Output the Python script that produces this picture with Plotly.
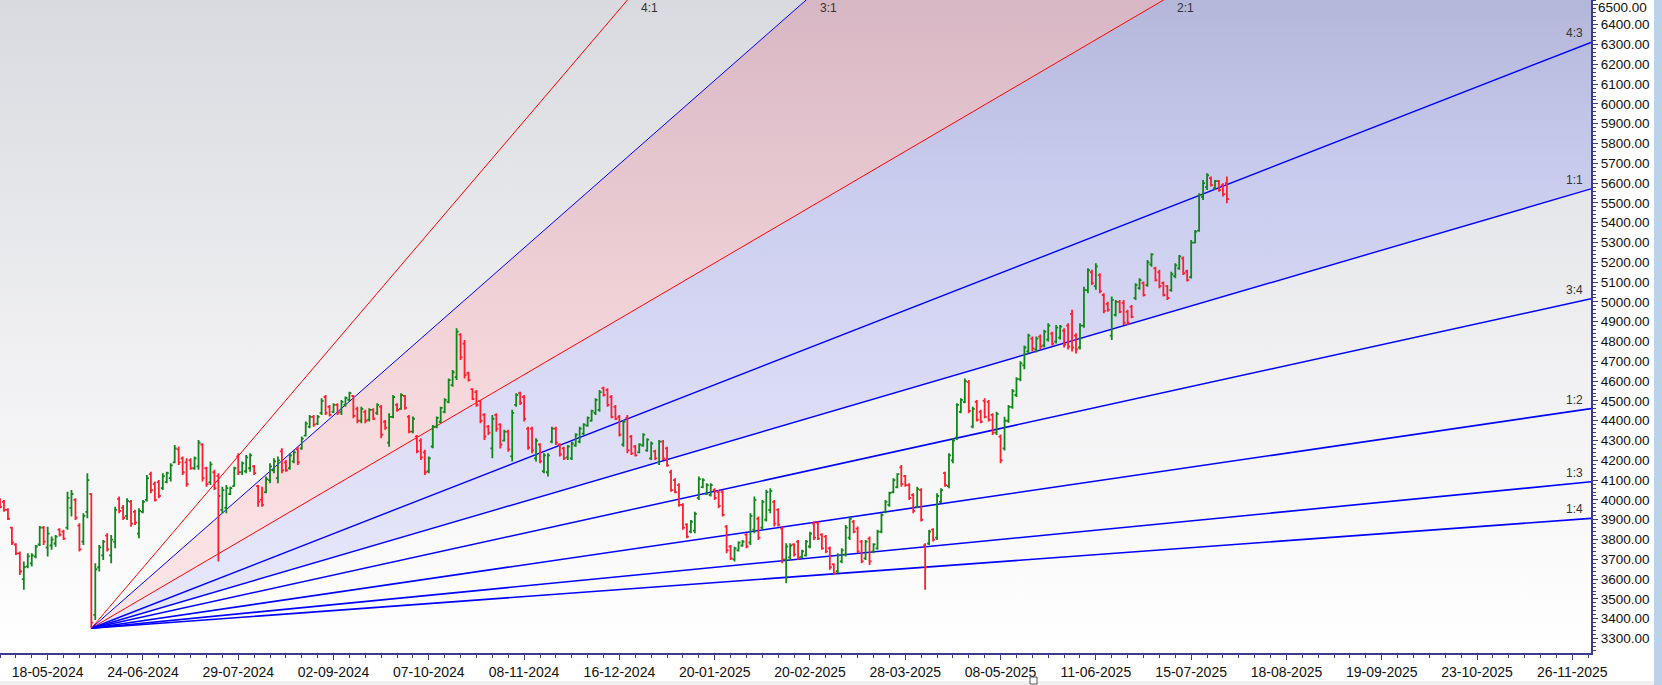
import plotly.graph_objects as go

# ---------------- data ----------------
# x axis = trading-bar index (0 = 18-05-2024), one tick label every 24 bars
tick_index = [0, 24, 48, 72, 96, 120, 144, 168, 192, 216, 240, 264, 288, 312, 336, 360, 384]
tick_labels = ["18-05-2024", "24-06-2024", "29-07-2024", "02-09-2024", "07-10-2024",
               "08-11-2024", "16-12-2024", "20-01-2025", "20-02-2025", "28-03-2025",
               "08-05-2025", "11-06-2025", "15-07-2025", "18-08-2025", "19-09-2025",
               "23-10-2025", "26-11-2025"]
price_ticks = list(range(3300, 6501, 100))

first_bar = -12
opens = [
    4000, 3990, 3950, 3860, 3775, 3730, 3600, 3665, 3680, 3715,
    3775, 3860, 3760, 3770, 3780, 3850, 3840, 3860, 3960, 4000,
    3870, 3790, 3940, 4030, 3420, 3660, 3720, 3820, 3720, 3790,
    4005, 3960, 3920, 3990, 3940, 3830, 3940, 4000, 4130, 4080,
    4090, 4060, 4090, 4110, 4190, 4255, 4210, 4190, 4200, 4160,
    4170, 4280, 4160, 4090, 4140, 4120, 3950, 3960, 4030, 4070,
    4220, 4140, 4145, 4160,
    # 52..114
    4170, 4070, 4000, 4040, 4100, 4150, 4110, 4245, 4190, 4160,
    4195, 4255, 4260, 4325, 4370, 4420, 4385, 4440, 4520, 4470,
    4445, 4480, 4445, 4480, 4505, 4525, 4460, 4400, 4445, 4405,
    4455, 4440, 4470, 4395, 4290, 4420, 4480, 4460, 4525, 4420,
    4345, 4320, 4300, 4240, 4145, 4270, 4370, 4395, 4445, 4495,
    4580, 4620, 4835, 4790, 4640, 4560, 4545, 4500, 4430, 4370,
    4260, 4430, 4380,
    # 115..175
    4300, 4345, 4220, 4480, 4540, 4520, 4360, 4360, 4210, 4280,
    4145, 4140, 4295, 4360, 4280, 4260, 4215, 4210, 4275, 4295,
    4335, 4375, 4400, 4440, 4455, 4565, 4555, 4520, 4470, 4420,
    4280, 4415, 4320, 4270, 4240, 4275, 4250, 4210, 4245, 4190,
    4295, 4260, 4140, 4100, 4075, 3975, 3875, 3840, 3845, 4010,
    4065, 4030, 4025, 4050, 4040, 4040, 3865, 3765, 3700, 3745,
    3770,
    # 176..239
    3825, 3785, 3850, 3905, 3860, 3900, 3950, 3990, 3950, 3855,
    3700, 3710, 3775, 3790, 3712, 3720, 3765, 3880, 3885, 3825,
    3815, 3755, 3675, 3640, 3690, 3725, 3810, 3890, 3855, 3790,
    3705, 3805, 3740, 3755, 3840, 3940, 3975, 4040, 4065, 4165,
    4120, 4075, 4025, 3965, 4050, 3770, 3780, 3850, 3810, 3990,
    4135, 4070, 4200, 4315, 4445, 4495, 4595, 4370, 4495, 4445,
    4500, 4495, 4430, 4340,
    # 240..297
    4320, 4260, 4400, 4470, 4530, 4610, 4680, 4750, 4815, 4760,
    4825, 4780, 4810, 4840, 4800, 4820, 4855, 4880, 4940, 4830,
    4770, 4880, 5060, 5150, 5080, 5135, 5035, 4990, 4830, 4935,
    5000, 4995, 4950, 4975, 5020, 5070, 5095, 5085, 5190, 5170,
    5150, 5095, 5080, 5060, 5130, 5170, 5220, 5155, 5125, 5300,
    5360, 5530, 5580, 5625, 5575, 5610, 5590, 5600,
]
highs = [
    4008, 4000, 3958, 3865, 3781, 3739, 3689, 3731, 3731, 3773,
    3869, 3869, 3865, 3815, 3823, 3857, 3849, 4042, 4050, 4008,
    3882, 3933, 4135, 4034, 3680, 3773, 3798, 3832, 3823, 3966,
    4017, 3975, 4008, 4000, 3950, 3958, 4000, 4126, 4143, 4093,
    4101, 4135, 4143, 4185, 4278, 4270, 4219, 4210, 4210, 4219,
    4303, 4286, 4168, 4194, 4152, 4135, 4067, 4076, 4067, 4168,
    4236, 4194, 4227, 4236,
    # 52..114
    4177, 4076, 4067, 4118, 4185, 4210, 4219, 4261, 4202, 4236,
    4253, 4269, 4320, 4396, 4429, 4429, 4429, 4513, 4530, 4480,
    4488, 4488, 4505, 4522, 4547, 4530, 4471, 4471, 4455, 4463,
    4463, 4488, 4480, 4404, 4438, 4530, 4488, 4539, 4530, 4429,
    4421, 4328, 4312, 4253, 4219, 4379, 4421, 4471, 4513, 4614,
    4656, 4867, 4842, 4808, 4648, 4564, 4555, 4505, 4438, 4379,
    4429, 4438, 4387,
    # 115..175
    4354, 4354, 4455, 4539, 4547, 4530, 4370, 4370, 4312, 4286,
    4236, 4236, 4370, 4370, 4286, 4269, 4278, 4295, 4337, 4370,
    4387, 4421, 4455, 4513, 4555, 4572, 4564, 4530, 4480, 4429,
    4404, 4429, 4328, 4278, 4286, 4337, 4312, 4295, 4253, 4303,
    4303, 4269, 4152, 4110, 4084, 3983, 3882, 3899, 3941, 4118,
    4110, 4084, 4084, 4059, 4050, 4050, 3874, 3773, 3764, 3790,
    3798,
    # 176..239
    3832, 3933, 4017, 3916, 4000, 4051, 4059, 4000, 3958, 3866,
    3781, 3781, 3781, 3798, 3748, 3798, 3840, 3891, 3891, 3832,
    3823, 3765, 3680, 3731, 3756, 3874, 3916, 3899, 3866, 3798,
    3798, 3815, 3781, 3849, 3933, 4000, 4042, 4110, 4135, 4177,
    4126, 4084, 4034, 4067, 4059, 3781, 3849, 3857, 4034, 4059,
    4143, 4236, 4312, 4488, 4513, 4614, 4606, 4471, 4505, 4455,
    4513, 4505, 4438, 4446,
    # 240..297
    4330, 4420, 4480, 4560, 4620, 4700, 4780, 4840, 4825, 4825,
    4835, 4860, 4893, 4850, 4884, 4884, 4867, 4893, 4960, 4842,
    4893, 5077, 5170, 5162, 5195, 5145, 5044, 5001, 5027, 5010,
    5010, 5010, 4960, 4985, 5094, 5120, 5103, 5212, 5246, 5178,
    5162, 5103, 5086, 5153, 5195, 5237, 5229, 5162, 5313, 5363,
    5549, 5616, 5650, 5633, 5616, 5616, 5600, 5633,
]
lows = [
    3958, 3941, 3899, 3773, 3722, 3621, 3546, 3655, 3664, 3706,
    3768, 3773, 3714, 3748, 3764, 3815, 3798, 3849, 3916, 3899,
    3739, 3773, 3907, 3352, 3394, 3638, 3697, 3739, 3680, 3756,
    3933, 3899, 3899, 3865, 3874, 3807, 3933, 3992, 4034, 3992,
    4008, 4050, 4084, 4093, 4185, 4177, 4126, 4067, 4152, 4152,
    4152, 4093, 4067, 4076, 4050, 3689, 3933, 3933, 4025, 4067,
    4126, 4126, 4135, 4143,
    # 52..114
    4126, 3966, 3966, 4034, 4084, 4135, 4084, 4135, 4143, 4152,
    4185, 4177, 4253, 4320, 4362, 4370, 4379, 4429, 4429, 4421,
    4438, 4429, 4429, 4471, 4497, 4412, 4387, 4387, 4387, 4396,
    4404, 4429, 4312, 4354, 4269, 4412, 4446, 4455, 4455, 4337,
    4337, 4236, 4202, 4126, 4135, 4261, 4362, 4387, 4438, 4488,
    4572, 4606, 4707, 4614, 4598, 4505, 4471, 4387, 4303, 4328,
    4211, 4345, 4260,
    # 115..175
    4295, 4244, 4194, 4471, 4480, 4396, 4253, 4236, 4194, 4185,
    4135, 4118, 4286, 4278, 4219, 4202, 4202, 4202, 4269, 4286,
    4328, 4370, 4396, 4429, 4446, 4522, 4471, 4412, 4404, 4320,
    4269, 4236, 4227, 4219, 4236, 4269, 4244, 4202, 4202, 4177,
    4202, 4168, 4042, 4034, 3966, 3849, 3807, 3832, 3832, 4000,
    4059, 4025, 4017, 4000, 3958, 3916, 3731, 3697, 3689, 3739,
    3764,
    # 176..239
    3756, 3773, 3832, 3798, 3849, 3891, 3933, 3866, 3866, 3680,
    3579, 3697, 3714, 3697, 3706, 3714, 3756, 3798, 3798, 3748,
    3731, 3647, 3621, 3630, 3680, 3714, 3798, 3832, 3731, 3680,
    3697, 3672, 3731, 3748, 3832, 3933, 3966, 4034, 4059, 4067,
    4067, 4000, 3933, 3958, 3891, 3546, 3773, 3790, 3798, 3983,
    4067, 4059, 4185, 4303, 4438, 4488, 4438, 4362, 4396, 4387,
    4412, 4396, 4328, 4328,
    # 240..297
    4185, 4250, 4390, 4460, 4520, 4600, 4660, 4740, 4750, 4745,
    4760, 4770, 4800, 4780, 4790, 4810, 4770, 4760, 4750, 4740,
    4760, 4870, 5044, 5086, 5061, 5044, 4943, 4951, 4808, 4926,
    4943, 4884, 4884, 4918, 5010, 5061, 5027, 5077, 5178, 5103,
    5069, 5027, 5010, 5052, 5120, 5162, 5136, 5103, 5119, 5296,
    5355, 5515, 5566, 5583, 5566, 5557, 5532, 5498,
]
closes = [
    3965, 3950, 3905, 3785, 3730, 3640, 3660, 3715, 3720, 3765,
    3860, 3790, 3830, 3800, 3815, 3825, 3805, 4010, 4030, 3910,
    3750, 3920, 4100, 3380, 3650, 3760, 3790, 3750, 3800, 3950,
    3945, 3910, 3995, 3880, 3885, 3945, 3990, 4110, 4050, 4000,
    4020, 4120, 4135, 4175, 4260, 4190, 4140, 4080, 4160, 4210,
    4290, 4110, 4080, 4180, 4060, 4020, 4050, 4060, 4060, 4160,
    4140, 4185, 4215, 4225,
    # 52..114
    4135, 3990, 3975, 4105, 4170, 4195, 4200, 4150, 4150, 4225,
    4240, 4190, 4310, 4385, 4420, 4380, 4420, 4500, 4440, 4430,
    4480, 4440, 4495, 4515, 4540, 4425, 4400, 4460, 4400, 4455,
    4410, 4480, 4330, 4365, 4420, 4520, 4455, 4530, 4465, 4345,
    4410, 4245, 4215, 4140, 4210, 4370, 4415, 4465, 4505, 4605,
    4645, 4850, 4720, 4630, 4605, 4510, 4480, 4400, 4320, 4340,
    4410, 4360, 4280,
    # 115..175
    4345, 4255, 4440, 4530, 4490, 4410, 4265, 4250, 4300, 4195,
    4225, 4225, 4360, 4290, 4230, 4210, 4270, 4285, 4330, 4360,
    4380, 4415, 4450, 4505, 4545, 4530, 4480, 4420, 4410, 4330,
    4395, 4250, 4235, 4225, 4280, 4330, 4305, 4285, 4210, 4295,
    4210, 4175, 4050, 4040, 3975, 3860, 3815, 3890, 3930, 4105,
    4100, 4075, 4075, 4010, 3970, 3925, 3745, 3705, 3755, 3785,
    3790,
    # 176..239
    3765, 3920, 4000, 3810, 3990, 4040, 4045, 3880, 3875, 3700,
    3765, 3770, 3725, 3710, 3740, 3790, 3830, 3810, 3805, 3755,
    3740, 3660, 3630, 3720, 3745, 3860, 3905, 3840, 3740, 3690,
    3790, 3690, 3775, 3840, 3925, 3990, 4035, 4100, 4130, 4080,
    4075, 4010, 3945, 4055, 3900, 3660, 3840, 3800, 4020, 4050,
    4075, 4225, 4300, 4480, 4505, 4600, 4450, 4460, 4405, 4395,
    4420, 4405, 4340, 4435,
    # 240..297
    4200, 4400, 4470, 4550, 4610, 4690, 4770, 4830, 4765, 4815,
    4775, 4850, 4880, 4790, 4870, 4875, 4785, 4775, 4770, 4760,
    4880, 5060, 5160, 5095, 5180, 5055, 4955, 4960, 5010, 5000,
    4950, 4895, 4895, 4925, 5085, 5110, 5035, 5200, 5240, 5110,
    5080, 5035, 5020, 5140, 5185, 5230, 5145, 5110, 5300, 5355,
    5540, 5600, 5640, 5590, 5610, 5565, 5545, 5520,
]
bar_index = list(range(first_bar, first_bar + len(closes)))

# Gann fan anchored at the June-2024 low
gann_origin_index = 11
gann_origin_price = 3352
gann_unit = 5.875          # price per bar for the 1x1 angle
gann_names = ["4:1", "3:1", "2:1", "4:3", "1:1", "3:4", "1:2", "1:3", "1:4"]
gann_ratios = [4, 3, 2, 4 / 3, 1, 3 / 4, 1 / 2, 1 / 3, 1 / 4]
gann_colors = ["#ff0000", "#0000ff", "#ff0000", "#0000ff", "#0000ff",
               "#0000ff", "#0000ff", "#0000ff", "#0000ff"]
gann_widths = [1, 1, 1, 1.4, 1.4, 1.5, 1.6, 1.6, 1.6]

# ---------------- layout constants ----------------
X_MIN, X_MAX = -12.0, 388.7
Y_MIN, Y_MAX = 3227, 6525
W, H = 1662, 685
M_L, M_R, M_T, M_B = 0, 71, 0, 32
PLOT_W, PLOT_H = W - M_L - M_R, H - M_T - M_B


def gann_price(ratio, x):
    return gann_origin_price + ratio * gann_unit * (x - gann_origin_index)


fig = go.Figure()

# background gradient of the plotting area
fig.add_trace(go.Scatter(
    x=[X_MIN, X_MAX, X_MAX, X_MIN], y=[Y_MIN, Y_MIN, Y_MAX, Y_MAX],
    mode="lines", line=dict(width=0), fill="toself",
    fillgradient=dict(type="vertical", start=Y_MIN, stop=Y_MAX,
                      colorscale=[[0, "#ffffff"], [0.45, "#f0f0f2"], [1, "#d8dadf"]]),
    hoverinfo="skip", showlegend=False))

# pink band between 3:1 and 2:1
r31, r21, r11 = gann_ratios[1], gann_ratios[2], gann_ratios[4]
fig.add_trace(go.Scatter(
    x=[gann_origin_index, X_MAX, X_MAX, gann_origin_index],
    y=[gann_origin_price, gann_price(r31, X_MAX), gann_price(r21, X_MAX), gann_origin_price],
    mode="lines", line=dict(width=0), fill="toself",
    fillgradient=dict(type="vertical", start=gann_origin_price, stop=Y_MAX,
                      colorscale=[[0, "#fde6e7"], [0.45, "#f3d5d9"], [1, "#d8b7c4"]]),
    hoverinfo="skip", showlegend=False))

# lavender band between 2:1 and 1:1
fig.add_trace(go.Scatter(
    x=[gann_origin_index, X_MAX, X_MAX, gann_origin_index],
    y=[gann_origin_price, gann_price(r21, X_MAX), gann_price(r11, X_MAX), gann_origin_price],
    mode="lines", line=dict(width=0), fill="toself",
    fillgradient=dict(type="vertical", start=gann_origin_price, stop=Y_MAX,
                      colorscale=[[0, "#e8e8fc"], [0.35, "#dcdcf6"], [0.7, "#cacdee"], [1, "#b4b7da"]]),
    hoverinfo="skip", showlegend=False))

# fan lines
for name, ratio, col, wd in zip(gann_names, gann_ratios, gann_colors, gann_widths):
    fig.add_trace(go.Scatter(
        x=[gann_origin_index, X_MAX],
        y=[gann_origin_price, gann_price(ratio, X_MAX)],
        mode="lines", line=dict(color=col, width=wd),
        hoverinfo="skip", showlegend=False))

# price bars (on an overlaid twin of the axes so they are painted above the fills)
fig.add_trace(go.Ohlc(
    x=bar_index, open=opens, high=highs, low=lows, close=closes,
    increasing=dict(line=dict(color="#11861a", width=1.8)),
    decreasing=dict(line=dict(color="#ff1e2d", width=1.8)),
    tickwidth=0.5, hoverinfo="skip", showlegend=False,
    xaxis="x2", yaxis="y2"))

# fan labels
label_font = dict(family="Liberation Sans, Arial", size=12, color="#333333")
for name, ratio in zip(gann_names, gann_ratios):
    end_price = gann_price(ratio, X_MAX)
    if end_price > Y_MAX:
        x_exit = gann_origin_index + (Y_MAX - gann_origin_price) / (ratio * gann_unit)
        fig.add_annotation(x=x_exit, y=1, xref="x", yref="paper", text=name,
                           showarrow=False, xanchor="center", yanchor="top",
                           xshift=22, yshift=1, font=label_font)
    else:
        fig.add_annotation(x=X_MAX, y=end_price, xref="x", yref="y", text=name,
                           showarrow=False, xanchor="right", yanchor="middle",
                           xshift=-6, yshift=9, font=label_font)

# the topmost price label sits at the very top edge: draw it as a text nudged inside the page
tick_font = dict(family="Liberation Sans, Arial", size=13.5, color="#111111")
price_text = [f"{v:.2f}" for v in price_ticks]
fig.add_annotation(x=1, y=1, xref="paper", yref="paper", text=price_text[-1],
                   showarrow=False, xanchor="left", yanchor="top", xshift=5, yshift=2,
                   font=tick_font)
price_text[-1] = ""

# window frame pieces: bottom grey band, right blue strip, small splitter handle
fig.add_shape(type="rect", xref="paper", yref="paper",
              x0=0, x1=W / PLOT_W, y0=-(H - PLOT_H) / PLOT_H, y1=-(681 - PLOT_H) / PLOT_H,
              line=dict(width=0), fillcolor="#f0f0f0", layer="above")
fig.add_shape(type="rect", xref="paper", yref="paper",
              x0=1654 / PLOT_W, x1=W / PLOT_W, y0=-(H - PLOT_H) / PLOT_H, y1=1,
              line=dict(width=0), fillcolor="#bcd2ea", layer="above")
fig.add_shape(type="rect", xref="paper", yref="paper",
              x0=1030 / PLOT_W, x1=1037 / PLOT_W, y0=-(684 - PLOT_H) / PLOT_H, y1=-(677 - PLOT_H) / PLOT_H,
              line=dict(width=1, color="#555555"), fillcolor="#ffffff", layer="above")

axis_col = "#3c3c8c"
fig.update_layout(
    width=W, height=H, autosize=False,
    margin=dict(l=M_L, r=M_R, t=M_T, b=M_B, pad=0, autoexpand=False),
    paper_bgcolor="#ffffff", plot_bgcolor="#ffffff",
    showlegend=False,
    xaxis=dict(range=[X_MIN, X_MAX], tickmode="array", tickvals=tick_index, ticktext=tick_labels,
               ticks="outside", ticklen=5, tickwidth=1, tickcolor=axis_col,
               minor=dict(ticks="outside", ticklen=3, tickcolor=axis_col, dtick=4, tick0=0),
               showline=True, linecolor=axis_col, linewidth=2, mirror=False,
               showgrid=False, zeroline=False, rangeslider=dict(visible=False),
               tickfont=dict(family="Liberation Sans, Arial", size=14, color="#111111"),
               ticklabeloverflow="allow",
               automargin=False, fixedrange=True),
    yaxis=dict(range=[Y_MIN, Y_MAX], side="right", tickmode="array",
               tickvals=price_ticks, ticktext=price_text,
               ticks="outside", ticklen=5, tickwidth=1, tickcolor=axis_col,
               minor=dict(ticks="outside", ticklen=3, tickcolor=axis_col, dtick=20, tick0=3300),
               showline=True, linecolor=axis_col, linewidth=2,
               showgrid=False, zeroline=False,
               tickfont=tick_font,
               ticklabeloverflow="allow",
               automargin=False, fixedrange=True),
    xaxis2=dict(range=[X_MIN, X_MAX], overlaying="x", visible=False, showgrid=False,
                zeroline=False, rangeslider=dict(visible=False), fixedrange=True),
    yaxis2=dict(range=[Y_MIN, Y_MAX], overlaying="y", visible=False, showgrid=False,
                zeroline=False, fixedrange=True),
)

fig.write_html("out.html", config={"displayModeBar": False},
               post_script="document.body.style.margin='0';")
